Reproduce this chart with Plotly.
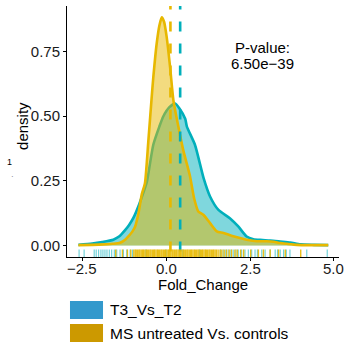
import plotly.graph_objects as go

# ---- data ----
t3_x = [-2.61, -2.2, -1.9, -1.57, -1.4, -1.22, -1.1, -0.97, -0.8, -0.65, -0.57, -0.38, -0.2, -0.08, 0.1, 0.27,
        0.4, 0.57, 0.62, 0.86, 1.12, 1.31, 1.56, 1.9, 2.15, 2.4, 2.6, 2.8, 3.1, 3.4, 3.7, 4.0, 4.4, 4.83]
t3_d = [0.003, 0.008, 0.014, 0.023, 0.035, 0.06, 0.08, 0.108, 0.16, 0.215, 0.247, 0.39, 0.46, 0.50, 0.535, 0.549,
        0.53, 0.49, 0.46, 0.39, 0.26, 0.19, 0.138, 0.106, 0.074, 0.035, 0.025, 0.022, 0.02, 0.016, 0.012, 0.005, 0.003, 0.002]

ms_x = [-2.61, -2.0, -1.6, -1.37, -1.2, -1.12, -1.0, -0.92, -0.82, -0.72, -0.63, -0.53, -0.43, -0.38, -0.28, -0.2,
        -0.13, -0.06, 0.02, 0.12, 0.22, 0.32, 0.51, 0.71, 0.84, 0.96, 1.11, 1.31, 1.51, 1.71, 2.0, 2.4, 2.7, 3.0,
        3.2, 3.4, 3.6, 3.9, 4.3, 4.83]
ms_d = [0.002, 0.004, 0.007, 0.011, 0.025, 0.036, 0.055, 0.074, 0.126, 0.2, 0.24, 0.40, 0.57, 0.65, 0.78, 0.85,
        0.882, 0.865, 0.805, 0.69, 0.56, 0.49, 0.37, 0.27, 0.18, 0.132, 0.119, 0.087, 0.055, 0.049, 0.036, 0.023, 0.017, 0.017,
        0.015, 0.01, 0.007, 0.003, 0.002, 0.002]

t3_mean = 0.42
ms_mean = 0.13

t3_rug = [-2.59, -2.44, -2.14, -2.08, -2.01, -1.94, -1.88, -1.82, -1.76, -1.69, -1.62, -1.54, -1.47, -1.37, -1.27,
          -1.17, -1.07, -1.0, -0.6, 0.0, 0.5, 1.0, 1.62, 1.7, 1.78, 1.85, 1.93, 2.0, 2.08, 2.15, 2.25, 2.35, 2.45,
          2.55, 2.65, 2.72, 2.85, 2.95, 3.1, 3.25, 3.32, 3.4, 3.5, 3.58, 3.69, 4.19, 4.8]
ms_rug = [-1.5, -1.3, -1.15, -1.05, -0.96, -0.92, -0.89, -0.85, -0.81, -0.78, -0.74, -0.70, -0.67, -0.63, -0.59,
          -0.56, -0.52, -0.48, -0.45, -0.41, -0.37, -0.34, -0.30, -0.26, -0.23, -0.19, -0.15, -0.12, -0.08, -0.04,
          -0.01, 0.03, 0.07, 0.10, 0.14, 0.18, 0.21, 0.25, 0.29, 0.32, 0.36, 0.40, 0.43, 0.47, 0.51, 0.54, 0.58,
          0.62, 0.65, 0.69, 0.73, 0.76, 0.80, 0.84, 0.87, 0.91, 0.95, 0.98, 1.02, 1.06, 1.09, 1.13, 1.17, 1.20,
          1.24, 1.28, 1.31, 1.35, 1.39, 1.42, 1.46, 1.50, 1.55, 1.61, 1.66, 1.73, 1.80, 1.88, 1.95, 2.05, 2.12,
          2.22, 2.31, 2.52, 2.75, 2.90, 3.10, 3.35, 3.55, 4.01]

x_ticks = [-2.5, 0.0, 2.5, 5.0]
x_ticktext = ["\u22122.5", "0.0", "2.5", "5.0"]
y_ticks = [0.0, 0.25, 0.5, 0.75]
y_ticktext = ["0.00", "0.25", "0.50", "0.75"]
series_names = ["T3_Vs_T2", "MS untreated Vs. controls"]
pvalue_text = ["P-value:", "6.50e\u221239"]

TEAL = "#00AFBB"
GOLD = "#E7B800"
FONT = "Liberation Sans, Arial, sans-serif"
YMIN, YMAX = -0.044, 0.926

fig = go.Figure()

fig.add_trace(go.Scatter(x=t3_x, y=t3_d, mode="lines", fill="tozeroy",
                         fillcolor="rgba(0,175,187,0.5)",
                         line=dict(color=TEAL, width=2.6, shape="spline", smoothing=0.6),
                         showlegend=False, hoverinfo="skip"))
fig.add_trace(go.Scatter(x=ms_x, y=ms_d, mode="lines", fill="tozeroy",
                         fillcolor="rgba(231,184,0,0.5)",
                         line=dict(color=GOLD, width=2.6, shape="spline", smoothing=0.6),
                         showlegend=False, hoverinfo="skip"))

# dashed mean lines
for m, c in [(ms_mean, GOLD), (t3_mean, TEAL)]:
    fig.add_trace(go.Scatter(x=[m, m], y=[0.951, YMIN], mode="lines",
                             line=dict(color=c, width=2.6, dash="10px,12px"),
                             showlegend=False, hoverinfo="skip"))

def rug(vals):
    xs, ys = [], []
    r0 = YMIN
    r1 = YMIN + 0.03 * (YMAX - YMIN)
    for v in vals:
        xs += [v, v, None]
        ys += [r0, r1, None]
    return xs, ys

rx, ry = rug(t3_rug)
fig.add_trace(go.Scatter(x=rx, y=ry, mode="lines", line=dict(color="rgba(0,175,187,0.55)", width=1.2),
                         showlegend=False, hoverinfo="skip"))
rx, ry = rug(ms_rug)
fig.add_trace(go.Scatter(x=rx, y=ry, mode="lines", line=dict(color="rgba(231,184,0,0.9)", width=1.4),
                         showlegend=False, hoverinfo="skip"))

# P-value
fig.add_annotation(x=2.885, y=0.767, text=pvalue_text[0], showarrow=False,
                   font=dict(size=15, color="black", family=FONT), xanchor="center", yanchor="middle")
fig.add_annotation(x=2.885, y=0.704, text=pvalue_text[1], showarrow=False,
                   font=dict(size=15, color="black", family=FONT), xanchor="center", yanchor="middle")

# x tick labels (placed as text, centred on the tick values)
for v, t in zip(x_ticks, x_ticktext):
    fig.add_annotation(x=v, xref="x", yref="paper", y=-0.0478, text=t, showarrow=False,
                       font=dict(size=15, color="#1a1a1a", family=FONT), xanchor="center", yanchor="middle")

# axis titles
fig.add_annotation(xref="paper", yref="paper", x=0.5, y=-0.1076, text="Fold_Change", showarrow=False,
                   font=dict(size=15, color="black", family=FONT), xanchor="center", yanchor="middle")
fig.add_annotation(xref="paper", yref="paper", x=-0.162, y=0.522, text="density", showarrow=False,
                   textangle=-90, font=dict(size=15, color="black", family=FONT),
                   xanchor="center", yanchor="middle")
# stray marks
fig.add_annotation(xref="paper", yref="paper", x=-0.21, y=0.378, text="1", showarrow=False,
                   font=dict(size=9, color="black", family=FONT), xanchor="center", yanchor="middle")
fig.add_annotation(xref="paper", yref="paper", x=-0.202, y=0.32, text="\u00b7", showarrow=False,
                   font=dict(size=8, color="#666666", family=FONT), xanchor="center", yanchor="middle")

# legend (manual)
leg_cols = ["#3399CC", "#CC9900"]
leg_y = [(-0.1753, -0.247), (-0.267, -0.3386)]
for i in range(2):
    fig.add_shape(type="rect", xref="paper", yref="paper", x0=0.011, x1=0.1324,
                  y0=leg_y[i][1], y1=leg_y[i][0], fillcolor=leg_cols[i], line=dict(width=0))
    fig.add_annotation(xref="paper", yref="paper", x=0.1507, y=(leg_y[i][0] + leg_y[i][1]) / 2,
                       text=series_names[i], showarrow=False, xanchor="left", yanchor="middle",
                       font=dict(size=15.5, color="black", family=FONT))

fig.update_layout(
    width=349, height=343,
    margin=dict(l=67, r=10, t=6, b=86),
    plot_bgcolor="white", paper_bgcolor="white",
    showlegend=False,
    xaxis=dict(range=[-2.95, 5.15], tickvals=x_ticks, showticklabels=False, showgrid=False, zeroline=False,
               showline=True, linecolor="black", linewidth=1, ticks="outside", ticklen=3, tickcolor="black"),
    yaxis=dict(range=[YMIN, YMAX], tickvals=y_ticks, ticktext=y_ticktext, showgrid=False, zeroline=False,
               showline=True, linecolor="black", linewidth=1, ticks="outside", ticklen=3, tickcolor="black",
               tickfont=dict(size=15, color="#1a1a1a", family=FONT)),
)

fig.write_html("out.html", config={"displayModeBar": False},
               post_script="document.body.style.margin='0px';document.body.style.overflow='hidden';")
